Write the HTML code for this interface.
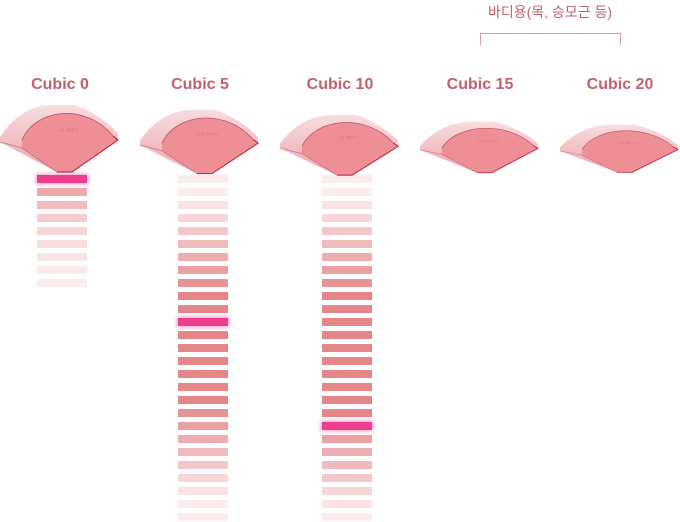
<!DOCTYPE html>
<html><head><meta charset="utf-8">
<style>
html,body{margin:0;padding:0;background:#fff;}
body{width:680px;height:522px;overflow:hidden;position:relative;font-family:"Liberation Sans","Noto Sans CJK KR",sans-serif;}
.lbl{position:absolute;top:76px;width:120px;text-align:center;font-weight:bold;font-size:16px;color:#c2606c;}
.hdr{position:absolute;top:2px;left:470px;width:160px;text-align:center;font-size:14px;color:#c2606c;}
.br{position:absolute;left:480px;top:33px;width:139px;height:11px;border:1.5px solid #d49ca4;border-bottom:none;}
.bar{position:absolute;width:50px;height:8px;background:#e4868a;}
.hi{background:#ec3e8c;box-shadow:0 0 4px 1px rgba(236,62,140,0.55);}
</style></head><body>
<div class="hdr">바디용(목, 승모근 등)</div>
<div class="br"></div>
<div class="lbl" style="left:0">Cubic 0</div>
<div class="lbl" style="left:140px">Cubic 5</div>
<div class="lbl" style="left:280px">Cubic 10</div>
<div class="lbl" style="left:420px">Cubic 15</div>
<div class="lbl" style="left:560px">Cubic 20</div>
<svg width="680" height="522" style="position:absolute;left:0;top:0">
<defs>
<linearGradient id="sg" x1="0" y1="0" x2="0" y2="1">
<stop offset="0" stop-color="#f8dde0"/><stop offset="1" stop-color="#eca5ad"/>
</linearGradient>
<g id="sh">
<path d="M0,33 C15,10 35,0 55,1 L75,1 C95,8 110,20 118,30 L118,36 L72,68 L57,68 L0,38 Z" fill="url(#sg)"/>
<path d="M22,36 C35,5 85,-2 113,32 L118,36 L72,68 L57,68 L22,44 Z" fill="#ee8e97"/>
<path d="M113,32 L118,36 L72,68 L57,68" fill="none" stroke="#c03040" stroke-width="1.2"/>
<path d="M22,36 C35,5 85,-2 113,32" fill="none" stroke="#c05060" stroke-width="0.8"/>
<path d="M0,38 L22,44 L57,68" fill="none" stroke="#d07080" stroke-width="0.8"/>
<text x="68" y="28" font-size="5" fill="#d87880" text-anchor="middle" font-family="Liberation Sans">LX BM H</text>
</g>
</defs>
<use href="#sh" transform="translate(0,104) scale(1,1)"/>
<use href="#sh" transform="translate(140,109) scale(1,0.95)"/>
<use href="#sh" transform="translate(280,114) scale(1,0.9)"/>
<use href="#sh" transform="translate(420,121) scale(1,0.76)"/>
<use href="#sh" transform="translate(560,124) scale(1,0.71)"/>
</svg>
<div id="bars"></div>
<script>
(function(){
var c=document.getElementById('bars'),h='';
function col(x,n,hi,op){for(var k=0;k<n;k++){var o=op(k);h+='<div class="bar'+(k==hi?' hi':'')+'" style="left:'+x+'px;top:'+(175+13*k)+'px;opacity:'+(k==hi?1:o)+'"></div>';}}
col(37,9,0,function(k){return [1,0.7,0.55,0.42,0.33,0.27,0.22,0.18,0.15][k];});
function mid(k,a,b){var d=k<a?(a-k):(k>b?k-b:0);return Math.max(0.15,1-d*0.11);}
col(178,27,11,function(k){return mid(k,9,17);});
col(322,27,19,function(k){return mid(k,9,18);});
c.innerHTML=h;
})();
</script>
</body></html>
